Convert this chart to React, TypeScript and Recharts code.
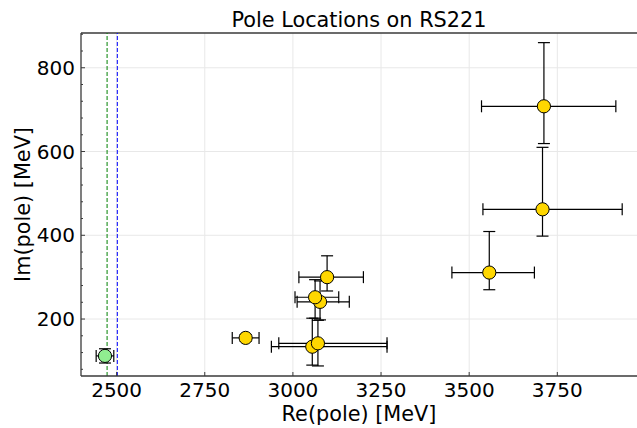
import { ScatterChart, Scatter, XAxis, YAxis, CartesianGrid, ErrorBar, ReferenceLine } from "recharts";

// pole positions (MeV)
const RE_POLE = [3557, 3712, 3708, 3097, 3077, 3063, 3055, 3071, 2866];
const IM_POLE = [311, 708, 462, 300, 241, 252, 134, 142, 155];
const RE_ERR_LO = [106, 177, 169, 80, 65, 57, 116, 111, 38];
const RE_ERR_HI = [128, 204, 226, 103, 83, 67, 212, 196, 38];
const IM_ERR_LO = [41, 89, 64, 33, 43, 50, 44, 54, 8];
const IM_ERR_HI = [98, 152, 148, 51, 50, 42, 68, 55, 8];

// the lone green pole near threshold
const RE_GREEN = [2467];
const IM_GREEN = [112];
const RE_GREEN_ERR = [25];
const IM_GREEN_ERR = [17];

// thresholds (dashed lines)
const THRESH_GREEN = 2473;
const THRESH_BLUE = 2502;

const X_TICKS = [2500, 2750, 3000, 3250, 3500, 3750];
const Y_TICKS = [200, 400, 600, 800];
const Y_MINOR = [80, 120, 160, 240, 280, 320, 360, 440, 480, 520, 560, 640, 680, 720, 760, 840, 880];
const X_DOMAIN = [2399, 3976];
const Y_DOMAIN = [64, 883];

const W = 637;
const H = 428;
const FONT = "'DejaVu Sans', sans-serif";
const SPINE = "#3a3a3a";

const gold = RE_POLE.map((x, i) => ({
  x,
  y: IM_POLE[i],
  xErr: [RE_ERR_LO[i], RE_ERR_HI[i]],
  yErr: [IM_ERR_LO[i], IM_ERR_HI[i]],
}));

const green = RE_GREEN.map((x, i) => ({
  x,
  y: IM_GREEN[i],
  xErr: [RE_GREEN_ERR[i], RE_GREEN_ERR[i]],
  yErr: [IM_GREEN_ERR[i], IM_GREEN_ERR[i]],
}));

const dot = (fill: string) => (props: any) => (
  <circle cx={props.cx} cy={props.cy} r={6.6} fill={fill} stroke="#000" strokeWidth={1} />
);

function XTick(props: any) {
  const { x, y, payload } = props;
  return (
    <g>
      <line x1={x} y1={y} x2={x} y2={y - 4} stroke={SPINE} strokeWidth={1} />
      <text x={x} y={y + 21} textAnchor="middle" fontSize={20} fontFamily={FONT} fill="#000">
        {payload.value}
      </text>
    </g>
  );
}

function YTick(props: any) {
  const { x, y, payload } = props;
  const major = Y_TICKS.includes(payload.value);
  return (
    <g>
      <line x1={x} y1={y} x2={x + (major ? 4 : 2)} y2={y} stroke={SPINE} strokeWidth={1} />
      {major && (
        <text x={x - 6} y={y} dy="0.36em" textAnchor="end" fontSize={20} fontFamily={FONT} fill="#000">
          {payload.value}
        </text>
      )}
    </g>
  );
}

export default function App() {
  const yTicks = [...Y_TICKS, ...Y_MINOR].sort((a, b) => a - b);
  return (
    <div style={{ position: "absolute", left: 0, top: 0, width: W, height: H, background: "#fff" }}>
      <ScatterChart width={W} height={H} margin={{ top: 33, right: 0, bottom: 0, left: 0 }}>
        <CartesianGrid stroke="#e8e8e8" horizontalValues={Y_TICKS} verticalValues={X_TICKS} />
        <XAxis
          type="number"
          dataKey="x"
          domain={X_DOMAIN}
          allowDataOverflow
          ticks={X_TICKS}
          interval={0}
          height={52}
          tickSize={0}
          tickMargin={0}
          tick={<XTick />}
          axisLine={{ stroke: SPINE, strokeWidth: 1.3 }}
        />
        <YAxis
          type="number"
          dataKey="y"
          domain={Y_DOMAIN}
          allowDataOverflow
          ticks={yTicks}
          interval={0}
          width={81}
          tickSize={0}
          tickMargin={0}
          tick={<YTick />}
          axisLine={{ stroke: SPINE, strokeWidth: 1.3 }}
        />
        <ReferenceLine y={Y_DOMAIN[1]} stroke={SPINE} strokeWidth={1.3} />
        <ReferenceLine x={THRESH_GREEN} stroke="#008000" strokeWidth={1} strokeDasharray="4 2" />
        <ReferenceLine x={THRESH_BLUE} stroke="#0000ff" strokeWidth={1} strokeDasharray="4 2" />
        <Scatter data={gold} shape={dot("#ffd700")} isAnimationActive={false}>
          <ErrorBar dataKey="xErr" direction="x" width={6} stroke="#000" strokeWidth={1.2} />
          <ErrorBar dataKey="yErr" direction="y" width={6} stroke="#000" strokeWidth={1.2} />
        </Scatter>
        <Scatter data={green} shape={dot("#90ee90")} isAnimationActive={false}>
          <ErrorBar dataKey="xErr" direction="x" width={6} stroke="#000" strokeWidth={1.2} />
          <ErrorBar dataKey="yErr" direction="y" width={6} stroke="#000" strokeWidth={1.2} />
        </Scatter>
      </ScatterChart>
      <svg
        width={W}
        height={H}
        style={{ position: "absolute", left: 0, top: 0, pointerEvents: "none" }}
      >
        <text x={359} y={26.5} textAnchor="middle" fontSize={20.8} fontFamily={FONT} fill="#000">
          Pole Locations on RS221
        </text>
        <text x={359} y={421} textAnchor="middle" fontSize={20.8} fontFamily={FONT} fill="#000">
          Re(pole) [MeV]
        </text>
        <text
          x={0}
          y={0}
          transform="translate(29.5 204.5) rotate(-90)"
          textAnchor="middle"
          fontSize={20.8}
          fontFamily={FONT}
          fill="#000"
        >
          Im(pole) [MeV]
        </text>
      </svg>
    </div>
  );
}
